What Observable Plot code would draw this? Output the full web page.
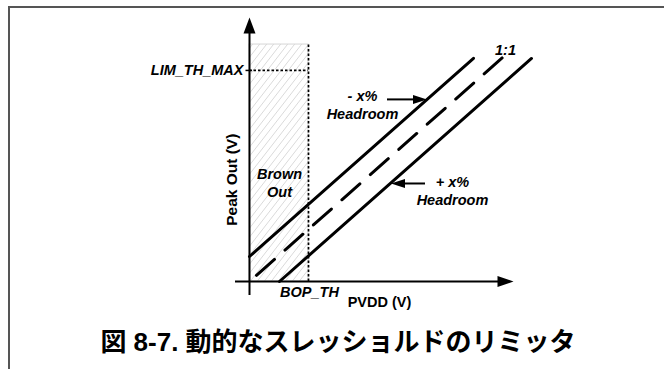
<!DOCTYPE html>
<html>
<head>
<meta charset="utf-8">
<script src="https://cdn.jsdelivr.net/npm/d3@7"></script>
<script src="https://cdn.jsdelivr.net/npm/@observablehq/plot@0.6"></script>
<style>
  html, body { margin: 0; padding: 0; background: #fff; width: 664px; height: 369px; overflow: hidden; }
  #frame { position: absolute; left: 8px; top: 6px; width: 660px; height: 370px;
           border-left: 2px solid #555; border-top: 2px solid #555; box-sizing: border-box; }
  #chart { position: absolute; left: 0; top: 0; }
  #title { position: absolute; left: 6px; top: 327px; width: 664px; text-align: center;
           font-family: "Liberation Sans", "Noto Sans CJK JP", sans-serif; font-weight: bold;
           font-size: 26px; line-height: 30px; color: #000; white-space: nowrap; }
</style>
</head>
<body>
<div id="frame"></div>
<div id="chart"></div>
<div id="title">図 8-7. 動的なスレッショルドのリミッタ</div>
<script>
// ---- data (arbitrary units; 1:1 line is peak = pvdd) ----
const pvddMinusHeadroom = [0, 8.96];
const peakMinusHeadroom = [1.13, 10.09];
const pvddOneToOne = [0.28, 10.12];
const peakOneToOne = [0.28, 10.12];
const pvddPlusHeadroom = [1.2, 11.28];
const peakPlusHeadroom = [0, 10.08];
const bopTh = 2.36;          // brown-out threshold (PVDD)
const limThMax = 9.54;       // LIM_TH_MAX (Peak Out)
const brownOutTop = 10.71;   // top of brown-out hatched region
const xAxisExtent = [-0.56, 10.56];
const yAxisExtent = [-0.63, 11.93];

const limLabel = "LIM_TH_MAX";
const labelTexts = ["BOP_TH", "Brown\nOut", "- x%\nHeadroom", "+ x%\nHeadroom", "1:1"];
const labelX = [2.4, 1.2, 4.52, 8.12, 10.24];
const labelY = [-0.42, 4.48, 8.0, 4.11, 10.49];

const minusArrow = {x1: 5.52, x2: 7.1, y: 8.23};
const plusArrow = {x1: 7.04, x2: 5.66, y: 4.43};

const xTitle = "PVDD (V)";
const yTitle = "Peak Out (V)";

// ---- helpers ----
const toRows = (xs, ys) => xs.map((x, i) => ({x, y: ys[i]}));
const labels = labelTexts.map((t, i) => ({t, x: labelX[i], y: labelY[i]}));

// custom arrowhead symbols (tip at origin)
const headUp = {draw(c) { c.moveTo(0, 0); c.lineTo(-6, 16); c.lineTo(6, 16); c.closePath(); }};
const headRight = {draw(c) { c.moveTo(0, 0); c.lineTo(-16, -5.5); c.lineTo(-16, 5.5); c.closePath(); }};
const smallRight = {draw(c) { c.moveTo(0, 0); c.lineTo(-14, -4.5); c.lineTo(-14, 4.5); c.closePath(); }};
const smallLeft = {draw(c) { c.moveTo(0, 0); c.lineTo(14, -4.5); c.lineTo(14, 4.5); c.closePath(); }};

const italic = {fontFamily: "Liberation Sans, Arial, sans-serif", fontSize: 14.5, fontWeight: "bold", fontStyle: "italic", fill: "black"};
const upright = {fontFamily: "Liberation Sans, Arial, sans-serif", fontSize: 14.5, fontWeight: "bold", fill: "black"};

const chart = Plot.plot({
  width: 664,
  height: 322,
  margin: 0,
  x: {domain: [0, 10], range: [249, 499], axis: null},
  y: {domain: [0, 10], range: [281, 59.75], axis: null},
  style: {background: "transparent", overflow: "visible"},
  marks: [
    // brown-out hatched region
    Plot.rect([{x1: 0, x2: bopTh, y1: 0, y2: brownOutTop}], {
      x1: "x1", x2: "x2", y1: "y1", y2: "y2", fill: "url(#hatch)", stroke: "#d6d6d6", strokeWidth: 1, inset: 0
    }),
    // dotted threshold lines
    Plot.ruleX([bopTh], {y1: 0, y2: brownOutTop, stroke: "black", strokeWidth: 1.7, strokeDasharray: "2.5,2"}),
    Plot.ruleY([limThMax], {x1: 0, x2: bopTh, stroke: "black", strokeWidth: 1.7, strokeDasharray: "2.5,2"}),
    Plot.ruleY([limThMax], {x1: -0.14, x2: 0.12, stroke: "black", strokeWidth: 1.5}),
    // axes
    Plot.ruleY([0], {x1: xAxisExtent[0], x2: xAxisExtent[1] - 0.4, stroke: "black", strokeWidth: 2}),
    Plot.ruleX([0], {y1: yAxisExtent[0], y2: yAxisExtent[1] - 0.5, stroke: "black", strokeWidth: 2}),
    Plot.dot([{x: xAxisExtent[1], y: 0}], {x: "x", y: "y", symbol: headRight, r: 5, fill: "black", stroke: "none"}),
    Plot.dot([{x: 0, y: yAxisExtent[1]}], {x: "x", y: "y", symbol: headUp, r: 5, fill: "black", stroke: "none"}),
    // headroom lines
    Plot.line(toRows(pvddMinusHeadroom, peakMinusHeadroom), {x: "x", y: "y", stroke: "black", strokeWidth: 3}),
    Plot.line(toRows(pvddOneToOne, peakOneToOne), {x: "x", y: "y", stroke: "black", strokeWidth: 3, strokeDasharray: "24,14"}),
    Plot.line(toRows(pvddPlusHeadroom, peakPlusHeadroom), {x: "x", y: "y", stroke: "black", strokeWidth: 3}),
    // annotation arrows
    Plot.ruleY([minusArrow], {x1: "x1", x2: d => d.x2 - 0.4, y: "y", stroke: "black", strokeWidth: 2}),
    Plot.dot([minusArrow], {x: "x2", y: "y", symbol: smallRight, r: 4, fill: "black", stroke: "none"}),
    Plot.ruleY([plusArrow], {x1: "x1", x2: d => d.x2 + 0.4, y: "y", stroke: "black", strokeWidth: 2}),
    Plot.dot([plusArrow], {x: "x2", y: "y", symbol: smallLeft, r: 4, fill: "black", stroke: "none"}),
    // labels
    Plot.text([limLabel], {x: 0, y: limThMax, text: d => d, textAnchor: "end", dx: -6, ...italic}),
    Plot.text(labels, {x: "x", y: "y", text: "t", lineHeight: 1.25, ...italic}),
    Plot.text([xTitle], {x: 5.2, y: -0.95, text: d => d, ...upright}),
    Plot.text([yTitle], {x: -0.68, y: 4.6, text: d => d, rotate: -90, ...upright, fontSize: 15.5})
  ]
});

// hatch pattern definition
const ns = "http://www.w3.org/2000/svg";
const defs = document.createElementNS(ns, "defs");
defs.innerHTML = '<pattern id="hatch" patternUnits="userSpaceOnUse" width="7" height="9">' +
  '<path d="M0,9 L7,0 M-7,9 L0,0 M7,9 L14,0" stroke="#dadada" stroke-width="1" fill="none"/></pattern>';
chart.insertBefore(defs, chart.firstChild);

document.getElementById("chart").appendChild(chart);
</script>
</body>
</html>
